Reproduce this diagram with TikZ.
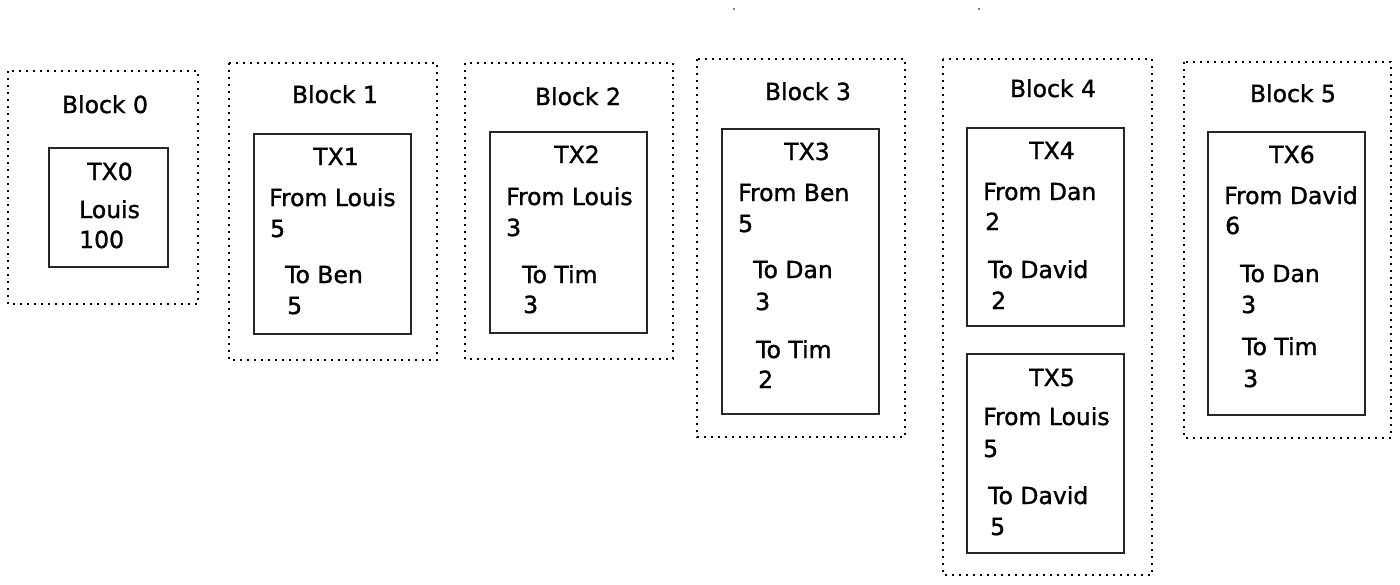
\documentclass[tikz,border=0pt]{standalone}
\usepackage{fontspec}
\setmainfont[FakeBold=1.3]{DejaVu Sans}
\begin{document}
\begin{tikzpicture}[x=1pt,y=-1pt,
  blk/.style={draw, line width=2pt, dash pattern=on 2pt off 5pt},
  txbox/.style={draw, line width=1.6pt, black!85},
  title/.style={anchor=base, inner sep=0pt, font=\fontsize{23.5}{26}\selectfont},
  entry/.style={anchor=base west, inner sep=0pt, font=\fontsize{23.5}{26}\selectfont}]
\useasboundingbox (0,0) rectangle (1400,584);
\fill (734,9) circle (0.9);
\fill (979,9) circle (0.9);
\draw[blk] (8,71) rectangle (198,304);
\draw[txbox] (49,148) rectangle (168,267);
\node[title] (head0) at (105,113) {Block 0};
\node[title] (tx0) at (110,180) {TX0};
\node[entry] (tx0who) at (79,218) {Louis};
\node[entry] (tx0amt) at (79,248) {100};
\draw[blk] (229,63) rectangle (437,360);
\draw[txbox] (254,134) rectangle (411,334);
\node[title] (head1) at (335,103) {Block 1};
\node[title] (tx1) at (336,165) {TX1};
\node[entry] (tx1from) at (269,206) {From Louis};
\node[entry] (tx1in) at (270,237) {5};
\node[entry] (tx1to) at (285,283) {To Ben};
\node[entry] (tx1out) at (287,314) {5};
\draw[blk] (465,63) rectangle (673,359);
\draw[txbox] (490,132) rectangle (647,333);
\node[title] (head2) at (578,105) {Block 2};
\node[title] (tx2) at (577,163) {TX2};
\node[entry] (tx2from) at (506,205) {From Louis};
\node[entry] (tx2in) at (506,236) {3};
\node[entry] (tx2to) at (522,283) {To Tim};
\node[entry] (tx2out) at (523,313) {3};
\draw[blk] (697,59) rectangle (905,437);
\draw[txbox] (722,129) rectangle (879,414);
\node[title] (head3) at (808,100) {Block 3};
\node[title] (tx3) at (807,160) {TX3};
\node[entry] (tx3from) at (738,201) {From Ben};
\node[entry] (tx3in) at (738,232) {5};
\node[entry] (tx3toa) at (753,278) {To Dan};
\node[entry] (tx3outa) at (755,310) {3};
\node[entry] (tx3tob) at (756,358) {To Tim};
\node[entry] (tx3outb) at (758,388) {2};
\draw[blk] (943,59) rectangle (1152,575);
\draw[txbox] (967,128) rectangle (1124,326);
\draw[txbox] (967,354) rectangle (1124,553);
\node[title] (head4) at (1053,97) {Block 4};
\node[title] (tx4) at (1052,159) {TX4};
\node[entry] (tx4from) at (983,200) {From Dan};
\node[entry] (tx4in) at (985,230) {2};
\node[entry] (tx4to) at (988,278) {To David};
\node[entry] (tx4out) at (991,309) {2};
\node[title] (tx5) at (1052,386) {TX5};
\node[entry] (tx5from) at (983,425) {From Louis};
\node[entry] (tx5in) at (983,457) {5};
\node[entry] (tx5to) at (988,504) {To David};
\node[entry] (tx5out) at (990,535) {5};
\draw[blk] (1184,62) rectangle (1391,438);
\draw[txbox] (1208,132) rectangle (1365,415);
\node[title] (head5) at (1293,102) {Block 5};
\node[title] (tx6) at (1292,163) {TX6};
\node[entry] (tx6from) at (1224,204) {From David};
\node[entry] (tx6in) at (1225,234) {6};
\node[entry] (tx6toa) at (1240,282) {To Dan};
\node[entry] (tx6outa) at (1241,313) {3};
\node[entry] (tx6tob) at (1242,355) {To Tim};
\node[entry] (tx6outb) at (1243,387) {3};
\end{tikzpicture}
\end{document}
